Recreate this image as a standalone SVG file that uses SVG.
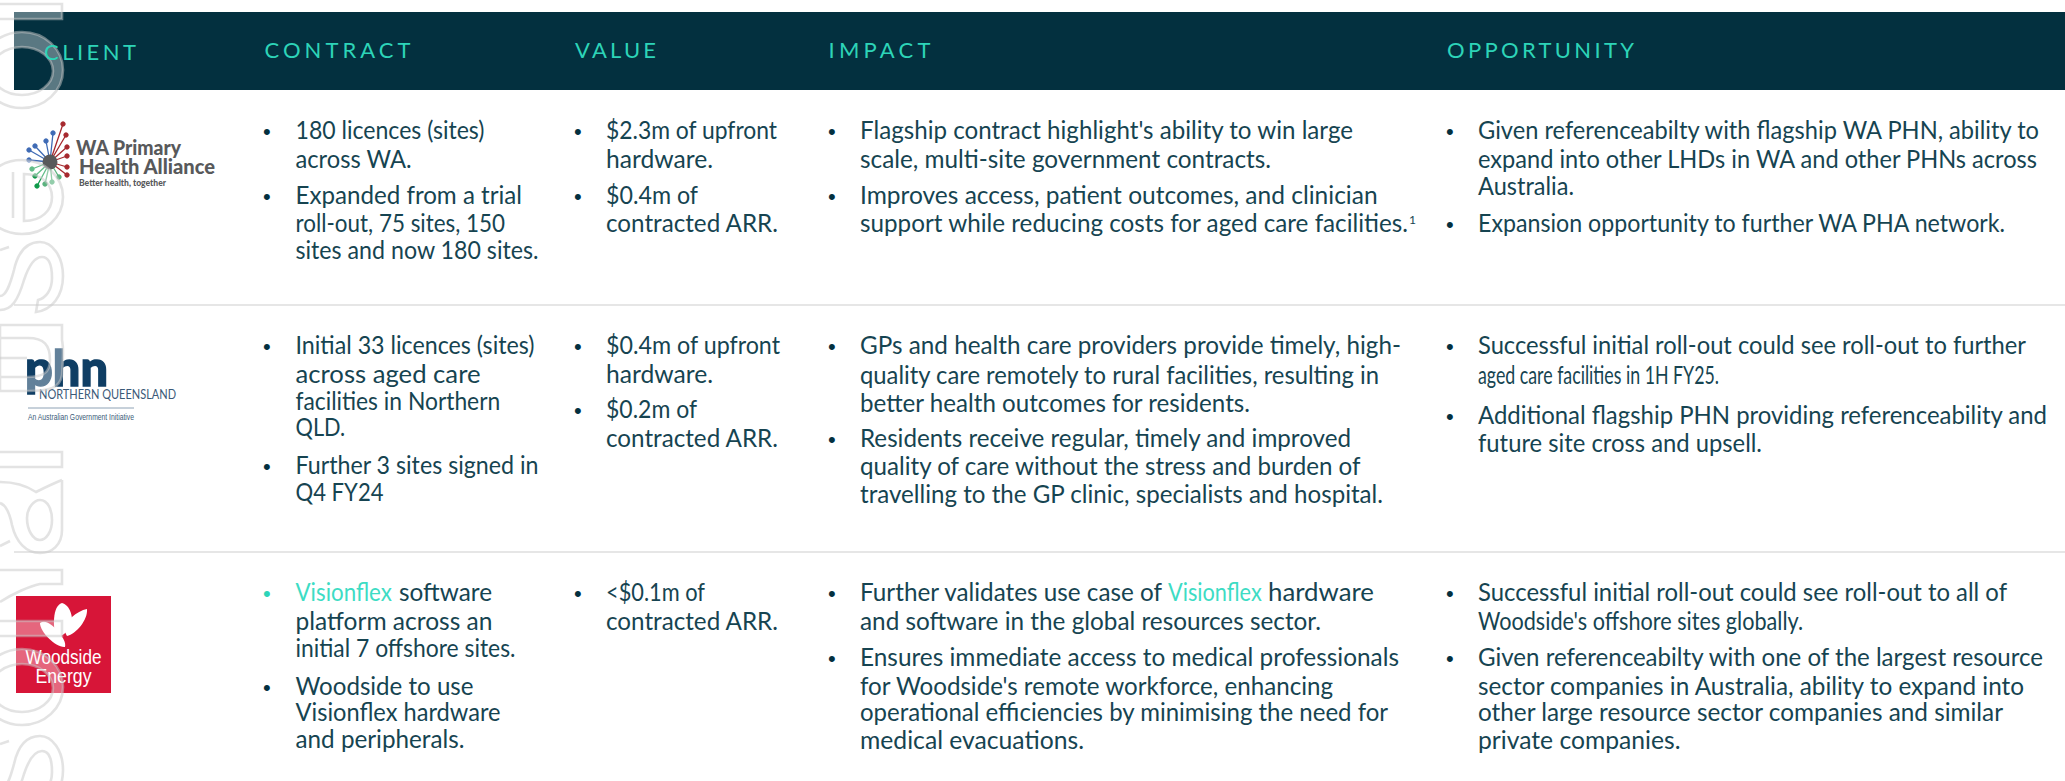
<svg xmlns="http://www.w3.org/2000/svg" xmlns:xlink="http://www.w3.org/1999/xlink" width="2065" height="781" viewBox="0 0 2065 781">
<style>
text{font-family:"Lato","Noto Sans",sans-serif}
.h{font-size:22px;fill:#2dd4b8;font-weight:400;font-family:"Lato",sans-serif}
.b{font-size:24.5px;fill:#164451}
.t{fill:#3ddcc4}
.d{font-size:22px;fill:#03303f;font-family:"Liberation Sans",sans-serif}
.dt{font-size:22px;fill:#2dd4b8;font-family:"Liberation Sans",sans-serif}
.div{stroke:#e6e6e6;stroke-width:2;fill:none}
.wm{fill:#fff;fill-opacity:.35;fill-rule:evenodd;stroke:#c8c8c8;stroke-opacity:.5;stroke-width:2.6}
.wl{fill:none;stroke:#c8c8c8;stroke-opacity:.5;stroke-width:2.6}
.gy{fill:#58595b;font-family:"Lato",sans-serif;font-weight:900}
.red{stroke:#a6292e;fill:#a6292e}.blu{stroke:#3f6bb5;fill:#3f6bb5}.grn{stroke:#0f9a4a;fill:#0f9a4a}.lgr{stroke:#5ab27e;fill:#5ab27e}
.sp{stroke-width:1.3}
</style>
<defs>
<g id="wmp">
<path class="wm" d="M-5 4H62V19H-5Z"/>
<path class="wm" d="M-19 70a41 38 0 1 0 82 0a41 38 0 1 0-82 0zM-9 71a31 24 0 1 0 62 0a31 24 0 1 0-62 0z"/>
</g>
<g id="wms">
<path class="wl" d="M0 310C12 310 18 300 24 280C30 262 36 257 42 257C50 257 52 268 52 278C52 290 46 298 38 300L36 312C52 310 63 296 63 276C63 256 52 242 40 242C26 242 18 252 14 270C10 285 6 296 0 296"/>
<path class="wl" d="M0 250L9 247"/>
</g>
</defs>
<rect width="2065" height="781" fill="#fff"/>
<rect id="header-bar" x="14" y="12" width="2051" height="78" fill="#03303f"/>
<g id="dividers">
<path class="div" d="M14 305H2065M14 552H2065"/>
</g>
<g id="logo-wa">
<g class="sp">
<path class="red" d="M50 162L63 124M50 162L66 135M50 162L67 147M50 162L67 156M50 162L67 167M50 162L67 175"/>
<path class="blu" d="M50 162L53 133M50 162L46 141M50 162L35 146M50 162L29 150M50 162L29 160"/>
<path class="grn" d="M50 162L32 169M50 162L35 176M50 162L37 186"/>
<path class="lgr" d="M50 162L45 184M50 162L52 182M50 162L59 177"/>
</g>
<g>
<circle class="red" cx="63" cy="124" r="2.2"/><circle class="red" cx="66" cy="135" r="2.2"/><circle class="red" cx="67" cy="147" r="2.2"/><circle class="red" cx="67" cy="156" r="2.2"/><circle class="red" cx="67" cy="167" r="2.2"/><circle class="red" cx="67" cy="175" r="2.2"/>
<circle class="blu" cx="53" cy="133" r="2.2"/><circle class="blu" cx="46" cy="141" r="2.2"/><circle class="blu" cx="35" cy="146" r="2.2"/><circle class="blu" cx="29" cy="150" r="2.2"/><circle class="blu" cx="29" cy="160" r="2.2"/>
<circle class="grn" cx="32" cy="169" r="2.2"/><circle class="grn" cx="35" cy="176" r="2.2"/><circle class="grn" cx="37" cy="186" r="2.2"/><circle class="lgr" cx="45" cy="184" r="2.2"/><circle class="lgr" cx="52" cy="182" r="2.2"/><circle class="lgr" cx="59" cy="177" r="2.2"/>
</g>
<circle cx="50" cy="162" r="7.5" fill="#58595b"/>
<text class="gy" x="76" y="154.5" font-size="20" textLength="105" lengthAdjust="spacingAndGlyphs">WA Primary</text>
<text class="gy" x="79" y="174" font-size="20" textLength="136" lengthAdjust="spacingAndGlyphs">Health Alliance</text>
<text class="gy" x="79" y="186" font-size="8.5" textLength="87" lengthAdjust="spacingAndGlyphs">Better health, together</text>
</g>
<g id="logo-phn">
<text x="25" y="386" font-size="49" font-weight="900" fill="#0f3e64" stroke="#0f3e64" stroke-width="1.4" textLength="83" lengthAdjust="spacingAndGlyphs">phn</text>
<text x="39" y="399" font-size="12.5" fill="#3b5a78" textLength="137" lengthAdjust="spacingAndGlyphs">NORTHERN QUEENSLAND</text>
<path d="M28 408H134" stroke="#8ea2b5" stroke-width="1" fill="none"/>
<text x="28" y="420" font-size="9.5" fill="#3b5a78" textLength="106" lengthAdjust="spacingAndGlyphs" style="font-family:'Liberation Sans',sans-serif">An Australian Government Initiative</text>
</g>
<g id="logo-woodside">
<rect x="16" y="596" width="95" height="97" fill="#d71538"/>
<path fill="#fff" d="M62 603C70 605 74 618 71 626C68 632 62 636 56 638C53 628 52 606 62 603Z"/>
<path fill="#fff" d="M87 609C88 620 76 634 67 636C63 630 66 622 72 617C76 613 82 610 87 609Z"/>
<path fill="#fff" d="M40 623C46 619 54 626 60 634C63 638 66 642 65 647C56 648 40 632 40 623Z"/>
<text x="63.5" y="664" font-size="19.5" fill="#fff" text-anchor="middle" style="font-family:'Liberation Sans',sans-serif" textLength="76" lengthAdjust="spacingAndGlyphs">Woodside</text>
<text x="63.5" y="683" font-size="19.5" fill="#fff" text-anchor="middle" style="font-family:'Liberation Sans',sans-serif" textLength="56" lengthAdjust="spacingAndGlyphs">Energy</text>
</g>
<g id="watermark">
<use xlink:href="#wmp" href="#wmp"/>
<path class="wm" d="M-19 197a41 37 0 1 0 82 0a41 37 0 1 0-82 0zM24 174C42 174 52 184 52 197C52 210 42 221 24 221Z"/>
<path class="wl" d="M13 172V218"/>
<use xlink:href="#wms" href="#wms"/>
<path class="wm" d="M0 325H62V340C64 350 63 360 62 375C60 388 50 391 27 391H0ZM0 338V377H27C44 377 50 372 50 360C50 345 44 338 28 338Z"/>
<path class="wl" d="M0 358H27"/>
<path class="wm" d="M-5 452H62V467H-5Z"/>
<path class="wl" d="M62 480V530C62 545 52 553 40 553C26 553 16 542 12 525C10 515 6 505 0 503M27 518C27 508 34 500 40 500C48 500 52 510 52 520C52 532 46 540 40 540C33 540 27 530 27 518ZM0 482C18 482 30 488 36 492C44 488 52 484 62 480M0 546L10 541"/>
<path class="wl" d="M0 570H62V584H40C30 586 12 594 0 602"/>
<use xlink:href="#wmp" href="#wmp" y="617"/>
<use xlink:href="#wms" href="#wms" y="494"/>
</g>
<g id="col-headers">
<text class="h" x="44" y="60" textLength="92">CLIENT</text>
<text class="h" x="264.5" y="58" textLength="146">CONTRACT</text>
<text class="h" x="575" y="58" textLength="81">VALUE</text>
<text class="h" x="828.5" y="58" textLength="102">IMPACT</text>
<text class="h" x="1447" y="58" textLength="187">OPPORTUNITY</text>
</g>
<g id="row-wa">
<g id="wa-contract">
<text class="d" x="263" y="139">•</text><text class="d" x="263" y="204">•</text>
<text class="b" x="295.5" y="139" textLength="189" lengthAdjust="spacingAndGlyphs">180 licences (sites)</text>
<text class="b" x="295.5" y="168" textLength="116" lengthAdjust="spacingAndGlyphs">across WA.</text>
<text class="b" x="295.5" y="204" textLength="226.5" lengthAdjust="spacingAndGlyphs">Expanded from a trial</text>
<text class="b" x="295.5" y="232" textLength="209.6" lengthAdjust="spacingAndGlyphs">roll-out, 75 sites, 150</text>
<text class="b" x="295.5" y="259" textLength="243" lengthAdjust="spacingAndGlyphs">sites and now 180 sites.</text>
</g>
<g id="wa-value">
<text class="d" x="574" y="139">•</text><text class="d" x="574" y="204">•</text>
<text class="b" x="606" y="139" textLength="171" lengthAdjust="spacingAndGlyphs">$2.3m of upfront</text>
<text class="b" x="606" y="168" textLength="107" lengthAdjust="spacingAndGlyphs">hardware.</text>
<text class="b" x="606" y="204" textLength="92" lengthAdjust="spacingAndGlyphs">$0.4m of</text>
<text class="b" x="606" y="232" textLength="172" lengthAdjust="spacingAndGlyphs">contracted ARR.</text>
</g>
<g id="wa-impact">
<text class="d" x="828" y="139">•</text><text class="d" x="828" y="204">•</text>
<text class="b" x="860" y="139" textLength="493" lengthAdjust="spacingAndGlyphs">Flagship contract highlight's ability to win large</text>
<text class="b" x="860" y="168" textLength="411" lengthAdjust="spacingAndGlyphs">scale, multi-site government contracts.</text>
<text class="b" x="860" y="204" textLength="517.6" lengthAdjust="spacingAndGlyphs">Improves access, patient outcomes, and clinician</text>
<text class="b" x="860" y="232" textLength="548" lengthAdjust="spacingAndGlyphs">support while reducing costs for aged care facilities.</text>
<text class="b" x="1409" y="224" style="font-size:12px">1</text>
</g>
<g id="wa-opp">
<text class="d" x="1446" y="139">•</text><text class="d" x="1446" y="232">•</text>
<text class="b" x="1478" y="139" textLength="561" lengthAdjust="spacingAndGlyphs">Given referenceabilty with flagship WA PHN, ability to</text>
<text class="b" x="1478" y="168" textLength="559" lengthAdjust="spacingAndGlyphs">expand into other LHDs in WA and other PHNs across</text>
<text class="b" x="1478" y="195" textLength="96" lengthAdjust="spacingAndGlyphs">Australia.</text>
<text class="b" x="1478" y="232" textLength="527" lengthAdjust="spacingAndGlyphs">Expansion opportunity to further WA PHA network.</text>
</g>
</g>
<g id="row-phn">
<g id="phn-contract">
<text class="d" x="263" y="354">•</text><text class="d" x="263" y="474">•</text>
<text class="b" x="295.5" y="354" textLength="239" lengthAdjust="spacingAndGlyphs">Initial 33 licences (sites)</text>
<text class="b" x="295.5" y="383" textLength="185" lengthAdjust="spacingAndGlyphs">across aged care</text>
<text class="b" x="295.5" y="410" textLength="204.7" lengthAdjust="spacingAndGlyphs">facilities in Northern</text>
<text class="b" x="295.5" y="436" textLength="49.7" lengthAdjust="spacingAndGlyphs">QLD.</text>
<text class="b" x="295.5" y="474" textLength="243" lengthAdjust="spacingAndGlyphs">Further 3 sites signed in</text>
<text class="b" x="295.5" y="501" textLength="88" lengthAdjust="spacingAndGlyphs">Q4 FY24</text>
</g>
<g id="phn-value">
<text class="d" x="574" y="354">•</text><text class="d" x="574" y="418">•</text>
<text class="b" x="606" y="354" textLength="174" lengthAdjust="spacingAndGlyphs">$0.4m of upfront</text>
<text class="b" x="606" y="383" textLength="107" lengthAdjust="spacingAndGlyphs">hardware.</text>
<text class="b" x="606" y="418" textLength="91" lengthAdjust="spacingAndGlyphs">$0.2m of</text>
<text class="b" x="606" y="447" textLength="172" lengthAdjust="spacingAndGlyphs">contracted ARR.</text>
</g>
<g id="phn-impact">
<text class="d" x="828" y="354">•</text><text class="d" x="828" y="447">•</text>
<text class="b" x="860" y="354" textLength="541" lengthAdjust="spacingAndGlyphs">GPs and health care providers provide timely, high-</text>
<text class="b" x="860" y="384" textLength="519" lengthAdjust="spacingAndGlyphs">quality care remotely to rural facilities, resulting in</text>
<text class="b" x="860" y="412" textLength="390" lengthAdjust="spacingAndGlyphs">better health outcomes for residents.</text>
<text class="b" x="860" y="447" textLength="491" lengthAdjust="spacingAndGlyphs">Residents receive regular, timely and improved</text>
<text class="b" x="860" y="475" textLength="500.5" lengthAdjust="spacingAndGlyphs">quality of care without the stress and burden of</text>
<text class="b" x="860" y="503" textLength="523" lengthAdjust="spacingAndGlyphs">travelling to the GP clinic, specialists and hospital.</text>
</g>
<g id="phn-opp">
<text class="d" x="1446" y="354">•</text><text class="d" x="1446" y="424">•</text>
<text class="b" x="1478" y="354" textLength="548" lengthAdjust="spacingAndGlyphs">Successful initial roll-out could see roll-out to further</text>
<text class="b" x="1478" y="384" textLength="241" lengthAdjust="spacingAndGlyphs">aged care facilities in 1H FY25.</text>
<text class="b" x="1478" y="424" textLength="569" lengthAdjust="spacingAndGlyphs">Additional flagship PHN providing referenceability and</text>
<text class="b" x="1478" y="452" textLength="284" lengthAdjust="spacingAndGlyphs">future site cross and upsell.</text>
</g>
</g>
<g id="row-woodside">
<g id="ws-contract">
<text class="dt" x="263" y="601">•</text><text class="d" x="263" y="695">•</text>
<text class="b t" x="295.5" y="601" textLength="96.4" lengthAdjust="spacingAndGlyphs">Visionflex</text>
<text class="b" x="399" y="601" textLength="93" lengthAdjust="spacingAndGlyphs">software</text>
<text class="b" x="295.5" y="630" textLength="197" lengthAdjust="spacingAndGlyphs">platform across an</text>
<text class="b" x="295.5" y="657" textLength="220" lengthAdjust="spacingAndGlyphs">initial 7 offshore sites.</text>
<text class="b" x="295.5" y="695" textLength="178" lengthAdjust="spacingAndGlyphs">Woodside to use</text>
<text class="b" x="295.5" y="721" textLength="205" lengthAdjust="spacingAndGlyphs">Visionflex hardware</text>
<text class="b" x="295.5" y="748" textLength="169" lengthAdjust="spacingAndGlyphs">and peripherals.</text>
</g>
<g id="ws-value">
<text class="d" x="574" y="601">•</text>
<text class="b" x="606" y="601" textLength="99" lengthAdjust="spacingAndGlyphs">&lt;$0.1m of</text>
<text class="b" x="606" y="630" textLength="172" lengthAdjust="spacingAndGlyphs">contracted ARR.</text>
</g>
<g id="ws-impact">
<text class="d" x="828" y="601">•</text><text class="d" x="828" y="666">•</text>
<text class="b" x="860" y="601" textLength="302" lengthAdjust="spacingAndGlyphs">Further validates use case of</text>
<text class="b t" x="1168" y="601" textLength="93.7" lengthAdjust="spacingAndGlyphs">Visionflex</text>
<text class="b" x="1268" y="601" textLength="106" lengthAdjust="spacingAndGlyphs">hardware</text>
<text class="b" x="860" y="630" textLength="461" lengthAdjust="spacingAndGlyphs">and software in the global resources sector.</text>
<text class="b" x="860" y="666" textLength="539" lengthAdjust="spacingAndGlyphs">Ensures immediate access to medical professionals</text>
<text class="b" x="860" y="695" textLength="473" lengthAdjust="spacingAndGlyphs">for Woodside's remote workforce, enhancing</text>
<text class="b" x="860" y="721" textLength="528" lengthAdjust="spacingAndGlyphs">operational efficiencies by minimising the need for</text>
<text class="b" x="860" y="749" textLength="224" lengthAdjust="spacingAndGlyphs">medical evacuations.</text>
</g>
<g id="ws-opp">
<text class="d" x="1446" y="601">•</text><text class="d" x="1446" y="666">•</text>
<text class="b" x="1478" y="601" textLength="529" lengthAdjust="spacingAndGlyphs">Successful initial roll-out could see roll-out to all of</text>
<text class="b" x="1478" y="630" textLength="325" lengthAdjust="spacingAndGlyphs">Woodside's offshore sites globally.</text>
<text class="b" x="1478" y="666" textLength="565" lengthAdjust="spacingAndGlyphs">Given referenceabilty with one of the largest resource</text>
<text class="b" x="1478" y="695" textLength="546" lengthAdjust="spacingAndGlyphs">sector companies in Australia, ability to expand into</text>
<text class="b" x="1478" y="721" textLength="525" lengthAdjust="spacingAndGlyphs">other large resource sector companies and similar</text>
<text class="b" x="1478" y="749" textLength="202.5" lengthAdjust="spacingAndGlyphs">private companies.</text>
</g>
</g>
</svg>
